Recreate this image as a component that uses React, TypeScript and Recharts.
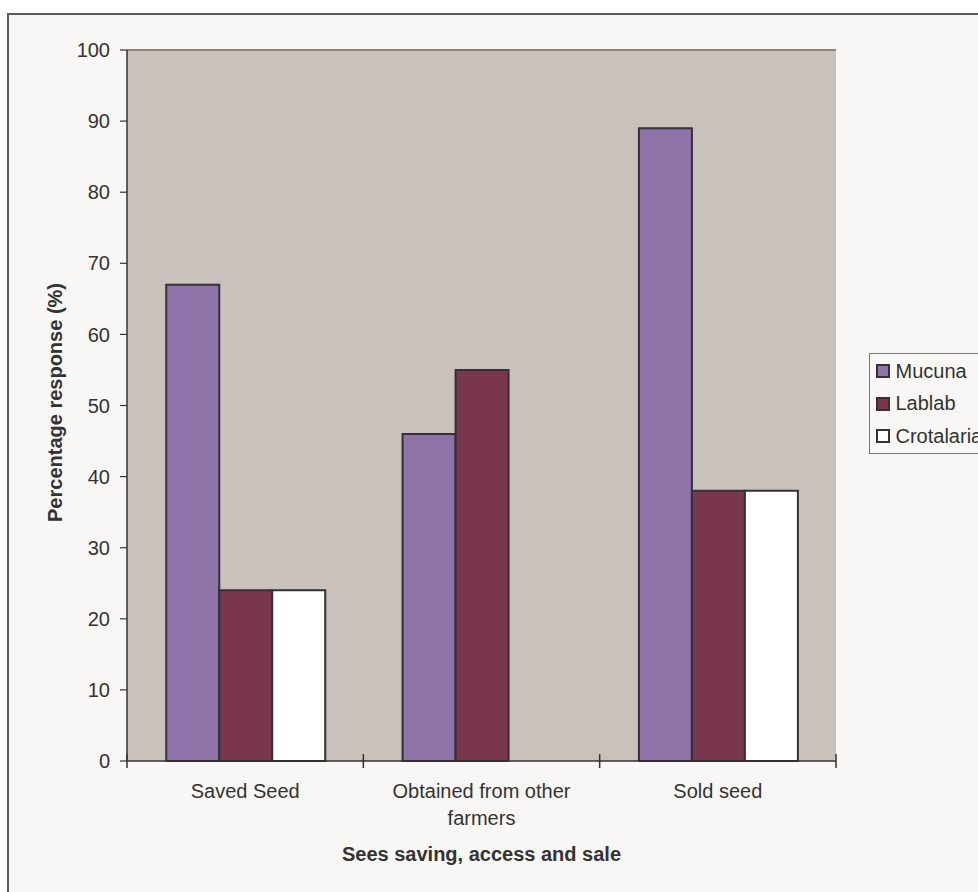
import React from "react";
import {
  BarChart,
  Bar,
  XAxis,
  YAxis,
  CartesianGrid,
  Legend,
  ReferenceLine,
  Text,
} from "recharts";

const CATEGORIES = ["Saved Seed", "Obtained from other farmers", "Sold seed"];
const MUCUNA = [67, 46, 89];
const LABLAB = [24, 55, 38];
const CROTALARIA = [24, 0, 38];
const Y_TICKS = [0, 10, 20, 30, 40, 50, 60, 70, 80, 90, 100];

const FONT = '"Liberation Sans", Arial, sans-serif';
const INK = "#333333";

const SERIES = [
  { key: "mucuna", name: "Mucuna", color: "#8E74A8" },
  { key: "lablab", name: "Lablab", color: "#7A364C" },
  { key: "crotalaria", name: "Crotalaria", color: "#FFFFFF" },
];

const data = CATEGORIES.map((name, i) => ({
  name,
  mucuna: MUCUNA[i],
  lablab: LABLAB[i],
  crotalaria: CROTALARIA[i],
}));

// category label plus the boundary ticks that cross the axis, Excel style
function CategoryTick(props: any) {
  const { x, y, payload, index } = props;
  const half = payload?.offset ?? 0;
  const last = index === CATEGORIES.length - 1;
  return (
    <g>
      <line x1={x - half} x2={x - half} y1={y - 7} y2={y + 7} stroke={INK} strokeWidth={1.5} />
      {last && (
        <line x1={x + half} x2={x + half} y1={y - 7} y2={y + 7} stroke={INK} strokeWidth={1.5} />
      )}
      <Text
        x={x}
        y={y + 23}
        width={200}
        textAnchor="middle"
        verticalAnchor="start"
        lineHeight={27}
        fontSize={20}
        fontFamily={FONT}
        fill={INK}
        style={{ fontSize: 20, fontFamily: FONT }}
      >
        {payload.value}
      </Text>
    </g>
  );
}

function LegendBox(props: any) {
  const order = SERIES.map((s) => s.name);
  const items = [...(props.payload ?? [])].sort(
    (a: any, b: any) => order.indexOf(a.value) - order.indexOf(b.value)
  );
  return (
    <div
      style={{
        border: "1.5px solid #777",
        background: "#F8F7F5",
        width: 130,
        paddingTop: 1,
        paddingLeft: 5.5,
        boxSizing: "content-box",
        fontFamily: FONT,
        fontSize: 20,
        color: INK,
      }}
    >
      {items.map((it: any) => (
        <div key={it.value} style={{ display: "flex", alignItems: "center", height: 32.5, whiteSpace: "nowrap" }}>
          <span
            style={{
              display: "inline-block",
              width: 10,
              height: 10,
              border: `2px solid ${INK}`,
              background: it.color,
              marginRight: 6,
            }}
          />
          <span>{it.value}</span>
        </div>
      ))}
    </div>
  );
}

export default function App() {
  return (
    <div
      style={{
        position: "fixed",
        left: 0,
        top: 0,
        width: 978,
        height: 892,
        overflow: "hidden",
        background: "#ffffff",
      }}
    >
      <div
        style={{
          position: "absolute",
          left: 7,
          top: 13,
          width: 1100,
          height: 1000,
          border: "2px solid #5e5e5e",
          background: "#F8F7F5",
        }}
      />
      <div style={{ position: "absolute", left: 0, top: 0 }}>
        <BarChart
          width={978}
          height={892}
          data={data}
          margin={{ top: 50, right: 142, left: 0, bottom: 0 }}
          barCategoryGap="16.6%"
          barGap={0}
        >
          <CartesianGrid horizontal={false} vertical={false} fill="#C9C1BB" />
          <XAxis
            dataKey="name"
            height={131}
            interval={0}
            tickSize={0}
            tickMargin={0}
            tickLine={false}
            axisLine={{ stroke: INK, strokeWidth: 1.5 }}
            tick={<CategoryTick />}
            label={{
              value: "Sees saving, access and sale",
              position: "insideBottom",
              offset: 31,
              fontSize: 20,
              fontWeight: "bold",
              fontFamily: FONT,
              fill: INK,
            }}
          />
          <YAxis
            width={127}
            domain={[0, 100]}
            ticks={Y_TICKS}
            interval={0}
            tickSize={7}
            tickMargin={10}
            axisLine={{ stroke: INK, strokeWidth: 1.5 }}
            tickLine={{ stroke: INK, strokeWidth: 1.2 }}
            tick={{ fontSize: 20, fill: INK, fontFamily: FONT }}
            label={{
              content: (p: any) => {
                const vb = p.viewBox;
                const cx = vb.x + 55;
                const cy = vb.y + vb.height / 2 - 3;
                return (
                  <text
                    x={cx}
                    y={cy}
                    transform={`rotate(-90, ${cx}, ${cy})`}
                    textAnchor="middle"
                    dominantBaseline="central"
                    fontSize={20}
                    fontWeight="bold"
                    fontFamily={FONT}
                    fill={INK}
                  >
                    Percentage response (%)
                  </text>
                );
              },
            }}
          />
          <YAxis
            yAxisId="edge"
            orientation="right"
            width={0}
            domain={[0, 100]}
            tick={false}
            tickLine={false}
            axisLine={{ stroke: "#8a847e", strokeWidth: 2 }}
          />
          <ReferenceLine y={100} stroke="#8a847e" strokeWidth={2} />
          <Legend
            layout="horizontal"
            align="center"
            verticalAlign="middle"
            width={140}
            wrapperStyle={{ left: 869, top: 353 }}
            content={<LegendBox />}
          />
          {SERIES.map((s) => (
            <Bar
              key={s.key}
              dataKey={s.key}
              name={s.name}
              fill={s.color}
              stroke={INK}
              strokeWidth={2}
              isAnimationActive={false}
            />
          ))}
        </BarChart>
      </div>
    </div>
  );
}
